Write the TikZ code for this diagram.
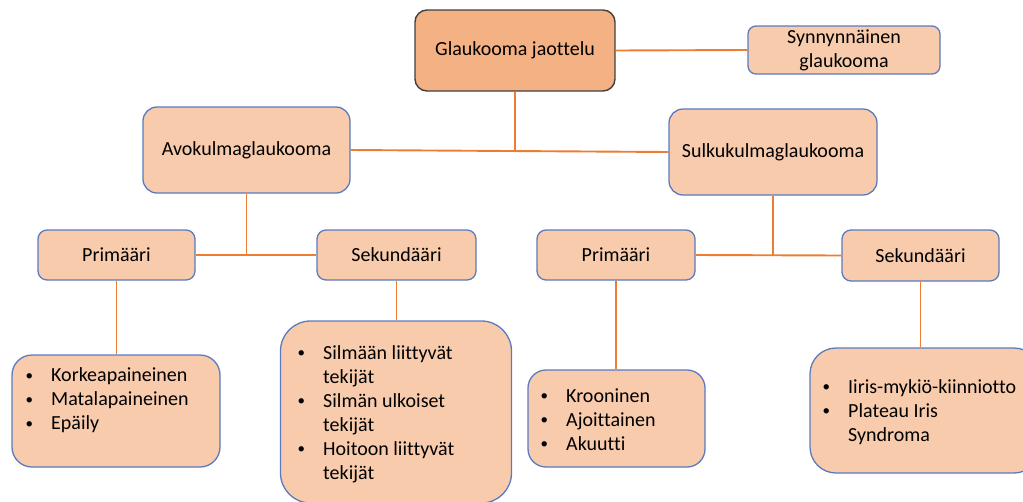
\documentclass[tikz,border=0pt]{standalone}
\usepackage{fontspec}
\usepackage{graphicx}
\setmainfont{Carlito}[Ligatures=NoCommon]
\definecolor{topfill}{HTML}{F4B183}
\definecolor{boxfill}{HTML}{F8CBAD}
\definecolor{boxline}{HTML}{5B7BBE}
\definecolor{topline}{HTML}{404040}
\definecolor{conn}{HTML}{ED7D31}
\newcommand{\bul}[1]{\makebox[25.5pt][l]{\raisebox{0.08em}{\scalebox{0.75}{\textbullet}}}#1}
\newcommand{\cont}[1]{\hspace*{25.5pt}#1}
\tikzset{
  box/.style={draw=boxline, fill=boxfill, line width=1.3pt, rounded corners=#1, inner sep=0pt, align=center},
  box/.default=10pt,
  topbox/.style={draw=topline, fill=topfill, line width=1.4pt, rounded corners=12pt, inner sep=0pt, align=center},
  listtext/.style={inner sep=0pt, anchor=west, align=left},
  link/.style={draw=conn, line width=1.9pt}
}
\begin{document}
\begin{tikzpicture}[x=1pt,y=-1pt,font=\fontsize{20}{24}\selectfont]
\useasboundingbox (0,0) rectangle (1023,501);
% top level
\node[topbox, minimum width=200pt, minimum height=81pt] (glauk) at (515,50.5) {Glaukooma jaottelu};
\node[box=8pt, minimum width=192pt, minimum height=48pt] (synn) at (844,50) {Synnynnäinen\\glaukooma};
\node[box=14pt, minimum width=207pt, minimum height=86pt] (avo) at (246.5,150) {Avokulmaglaukooma};
\node[box=14pt, minimum width=208pt, minimum height=86pt] (sulku) at (773,152) {Sulkukulmaglaukooma};
% second level
\node[box=9pt, minimum width=157pt, minimum height=50pt] (primL) at (116.5,255) {Primääri};
\node[box=9pt, minimum width=159pt, minimum height=50pt] (sekL) at (396.5,255) {Sekundääri};
\node[box=9pt, minimum width=158pt, minimum height=50pt] (primR) at (616,255) {Primääri};
\node[box=9pt, minimum width=157pt, minimum height=51pt] (sekR) at (920.5,255.5) {Sekundääri};
% bottom boxes
\node[box=20pt, minimum width=208pt, minimum height=112pt] (korkea) at (116,411) {};
\node[box=30pt, minimum width=231pt, minimum height=182pt] (silm) at (396,412) {};
\node[box=18pt, minimum width=177pt, minimum height=97pt] (kroon) at (616.5,418.5) {};
\node[box=26pt, minimum width=230pt, minimum height=125pt] (iiris) at (925,410.5) {};
% list texts
\node[listtext] (korkeaT) at (25.5,400.5) {\bul{Korkeapaineinen}\\\bul{Matalapaineinen}\\\bul{Epäily}};
\node[listtext] (silmT) at (297.5,414) {\bul{Silmään liittyvät}\\\cont{tekijät}\\\bul{Silmän ulkoiset}\\\cont{tekijät}\\\bul{Hoitoon liittyvät}\\\cont{tekijät}};
\node[listtext] (kroonT) at (540.5,419.5) {\bul{Krooninen}\\\bul{Ajoittainen}\\\bul{Akuutti}};
\node[listtext] (iirisT) at (822.5,412) {\bul{Iiris-mykiö-kiinniotto}\\\bul{Plateau Iris}\\\cont{Syndroma}};
% connectors
\coordinate (j1) at (515,151);
\draw[link] (glauk.east) -- (synn.west);
\draw[link] (glauk.south) -- (j1);
\draw[link] (avo.east) -- (sulku.west);
\draw[link] (avo.south) -- (avo.south |- primL.east);
\draw[link] (primL.east) -- (sekL.west);
\draw[link] (sulku.south) -- (sulku.south |- primR.east);
\draw[link] (primR.east) -- (sekR.west);
\draw[link] (primL.south) -- (primL.south |- korkea.north);
\draw[link] (sekL.south) -- (sekL.south |- silm.north);
\draw[link] (primR.south) -- (primR.south |- kroon.north);
\draw[link] (sekR.south) -- (sekR.south |- iiris.north);
\end{tikzpicture}
\end{document}
